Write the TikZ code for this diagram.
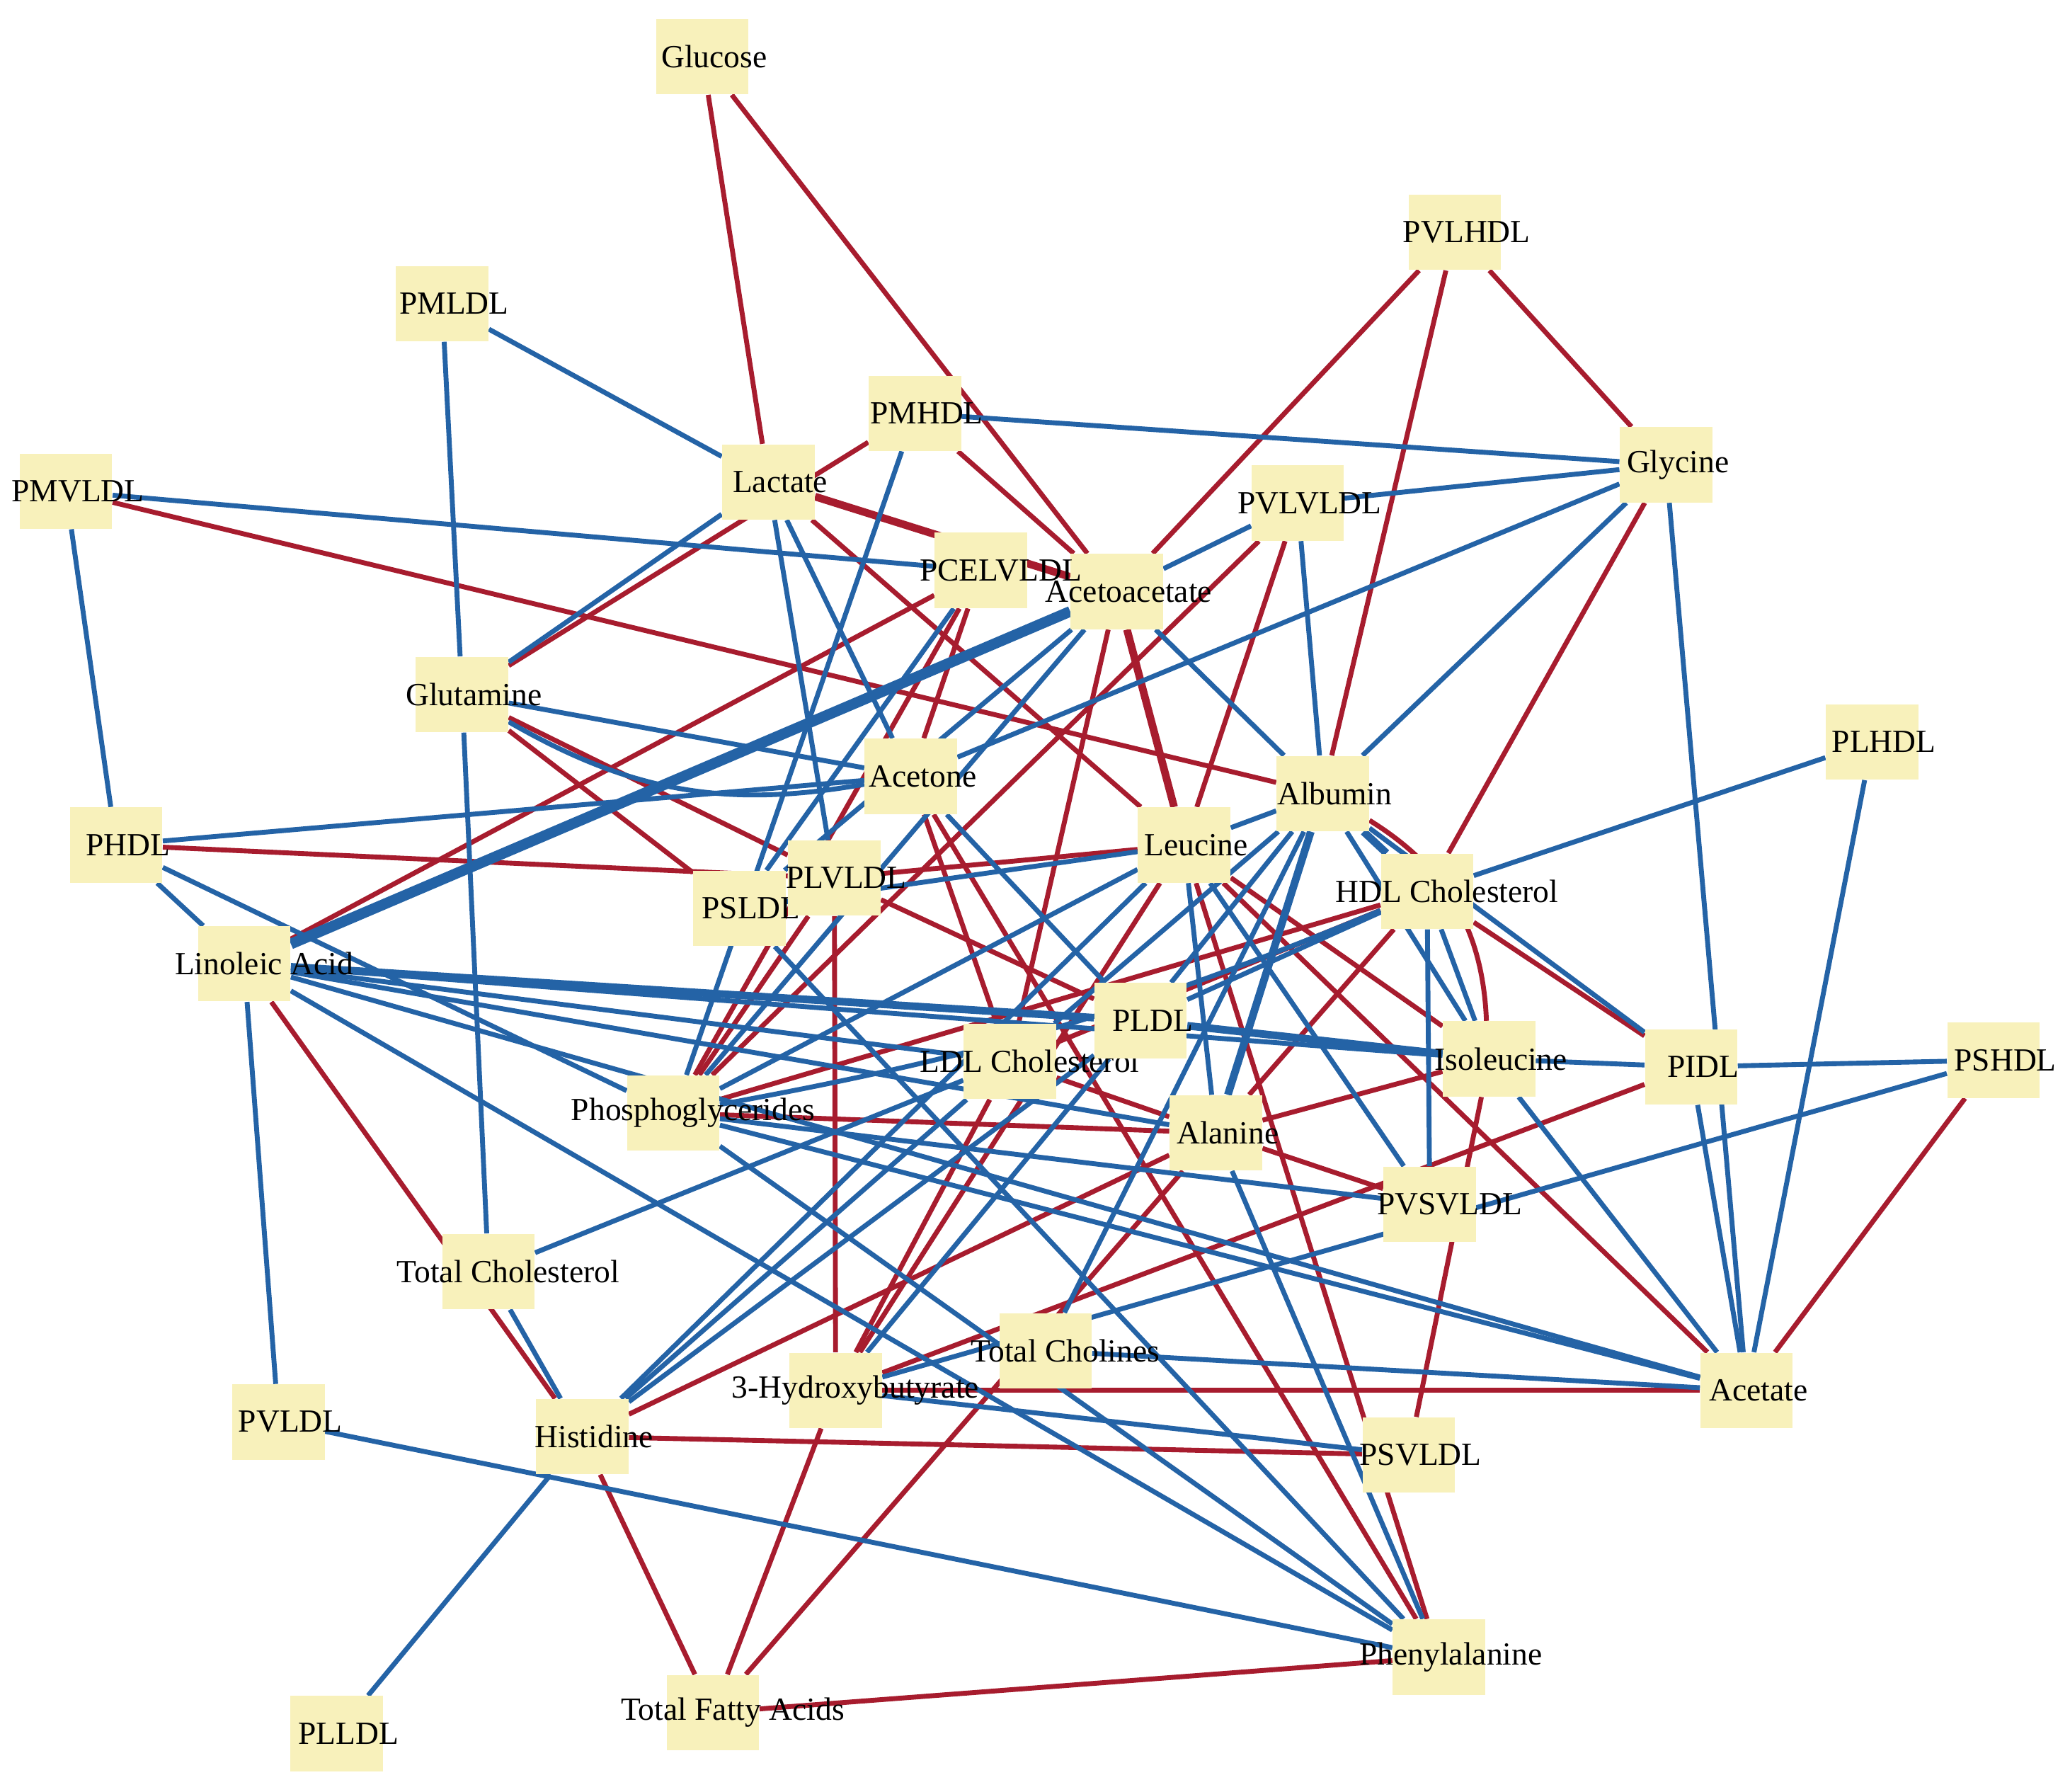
\documentclass[tikz,border=0pt]{standalone}
\usepackage{fontspec}
\setmainfont{Liberation Serif}
\usetikzlibrary{backgrounds}
\definecolor{posred}{RGB}{167,28,46}
\definecolor{negblue}{RGB}{36,99,166}
\definecolor{nodeyellow}{RGB}{248,241,187}

\begin{document}
\begin{tikzpicture}[
  x=0.02cm, y=-0.02cm,
  met/.style={rectangle, fill=nodeyellow, minimum width=1.4cm,
              minimum height=1.14cm, inner sep=0pt},
  lab/.style={font=\fontsize{13.9}{16}\selectfont, xshift=0.18cm, inner sep=0pt},
  wlab/.style={lab, xshift=0.12cm},
  posedge/.style={draw=posred, line width=2.1pt},
  negedge/.style={draw=negblue, line width=2.1pt},
  heavy/.style={line width=3.3pt}
]
\useasboundingbox (0,0) rectangle (1568,1357);

% Metabolites
\node[met, label={[lab]center:Glucose}] (glc) at (532,43) {};
\node[met, label={[lab]center:PMLDL}] (pmldl) at (335,230) {};
\node[met, label={[lab]center:PVLHDL}] (pvlhdl) at (1102,176) {};
\node[met, label={[lab]center:PMHDL}] (pmhdl) at (693,313) {};
\node[met, label={[lab]center:Glycine}] (gly) at (1262,352) {};
\node[met, label={[lab]center:PMVLDL}] (pmvldl) at (50,372) {};
\node[met, label={[lab]center:Lactate}] (lac) at (582,365) {};
\node[met, label={[lab]center:PVLVLDL}] (pvlvldl) at (983,381) {};
\node[met, label={[lab]center:Acetoacetate}] (acac) at (846,448) {};
\node[met, label={[wlab]center:PCELVLDL}] (pcel) at (743,432) {};
\node[met, label={[lab]center:Glutamine}] (gln) at (350,526) {};
\node[met, label={[lab]center:Acetone}] (acn) at (690,588) {};
\node[met, label={[lab]center:Albumin}] (alb) at (1002,601) {};
\node[met, label={[lab]center:PLHDL}] (plhdl) at (1418,562) {};
\node[met, label={[lab]center:PHDL}] (phdl) at (88,640) {};
\node[met, label={[lab]center:Leucine}] (leu) at (897,640) {};
\node[met, label={[lab]center:PSLDL}] (psldl) at (560,688) {};
\node[met, label={[lab]center:PLVLDL}] (plvldl) at (632,665) {};
\node[met, label={[wlab]center:HDL Cholesterol}] (hdlc) at (1081,675) {};
\node[met, label={[wlab]center:Linoleic Acid}] (lin) at (185,730) {};
\node[met, label={[wlab]center:LDL Cholesterol}] (ldlc) at (765,804) {};
\node[met, label={[lab]center:PLDL}] (pldl) at (864,773) {};
\node[met, label={[lab]center:Isoleucine}] (ile) at (1128,802) {};
\node[met, label={[lab]center:PIDL}] (pidl) at (1281,808) {};
\node[met, label={[lab]center:PSHDL}] (pshdl) at (1510,803) {};
\node[met, label={[wlab]center:Phosphoglycerides}] (pg) at (510,843) {};
\node[met, label={[lab]center:Alanine}] (ala) at (921,858) {};
\node[met, label={[wlab]center:PVSVLDL}] (pvsvldl) at (1083,912) {};
\node[met, label={[wlab]center:Total Cholesterol}] (tchol) at (370,963) {};
\node[met, label={[wlab]center:Total Cholines}] (tcho) at (792,1023) {};
\node[met, label={[wlab]center:3-Hydroxybutyrate}] (hb) at (633,1053) {};
\node[met, label={[lab]center:Acetate}] (ace) at (1323,1053) {};
\node[met, label={[lab]center:PVLDL}] (pvldl) at (211,1077) {};
\node[met, label={[lab]center:Histidine}] (his) at (441,1088) {};
\node[met, label={[lab]center:PSVLDL}] (psvldl) at (1067,1102) {};
\node[met, label={[lab]center:Phenylalanine}] (phe) at (1090,1255) {};
\node[met, label={[wlab]center:Total Fatty Acids}] (tfa) at (540,1297) {};
\node[met, label={[lab]center:PLLDL}] (plldl) at (255,1313) {};

\begin{scope}[on background layer]
% positive
\draw[posedge] (glc) -- (lac);
\draw[posedge] (glc) -- (acac);
\draw[posedge] (pvlhdl) -- (acac);
\draw[posedge] (pvlhdl) -- (alb);
\draw[posedge] (pvlhdl) -- (gly);
\draw[posedge] (pmhdl) -- (gln);
\draw[posedge] (pmhdl) -- (acac);
\draw[posedge] (pmvldl) -- (alb);
\draw[posedge, heavy] (lac) -- (acac);
\draw[posedge] (lac) -- (leu);
\draw[posedge] (pvlvldl) -- (leu);
\draw[posedge] (pvlvldl) -- (pg);
\draw[posedge] (pcel) -- (lin);
\draw[posedge] (pcel) -- (pg);
\draw[posedge] (pcel) -- (acn);
\draw[posedge, heavy] (acac) -- (leu);
\draw[posedge] (acac) -- (ldlc);
\draw[posedge] (gln) -- (plvldl);
\draw[posedge] (gln) -- (psldl);
\draw[posedge] (phdl) -- (plvldl);
\draw[posedge] (lin) -- (his);
\draw[posedge] (plvldl) -- (leu);
\draw[posedge] (plvldl) -- (hb);
\draw[posedge] (plvldl) -- (pldl);
\draw[posedge] (plvldl) -- (pg);
\draw[posedge] (alb) to[bend left=28] (ile);
\draw[posedge] (hdlc) -- (pidl);
\draw[posedge] (hdlc) -- (ala);
\draw[posedge] (gly) -- (hdlc);
\draw[posedge] (pg) -- (hdlc);
\draw[posedge] (ldlc) -- (hdlc);
\draw[posedge] (pg) -- (ala);
\draw[posedge] (ldlc) -- (ala);
\draw[posedge] (ile) -- (ala);
\draw[posedge] (ala) -- (pvsvldl);
\draw[posedge] (ala) -- (his);
\draw[posedge] (tfa) -- (ala);
\draw[posedge] (ile) -- (leu);
\draw[posedge] (leu) -- (ace);
\draw[posedge] (leu) -- (phe);
\draw[posedge] (leu) -- (hb);
\draw[posedge] (acn) -- (phe);
\draw[posedge] (acn) -- (ldlc);
\draw[posedge] (ile) -- (psvldl);
\draw[posedge] (hb) -- (pidl);
\draw[posedge] (hb) -- (ace);
\draw[posedge] (hb) -- (tfa);
\draw[posedge] (ldlc) -- (hb);
\draw[posedge] (his) -- (psvldl);
\draw[posedge] (his) -- (tfa);
\draw[posedge] (tfa) -- (phe);
\draw[posedge] (pshdl) -- (ace);
% negative
\draw[negedge] (pmldl) -- (lac);
\draw[negedge] (pmldl) -- (gln);
\draw[negedge] (gln) -- (tchol);
\draw[negedge] (pmhdl) -- (gly);
\draw[negedge] (pmhdl) -- (pg);
\draw[negedge] (gly) -- (pvlvldl);
\draw[negedge] (gly) -- (acn);
\draw[negedge] (gly) -- (alb);
\draw[negedge] (gly) -- (ace);
\draw[negedge] (pmvldl) -- (phdl);
\draw[negedge] (pmvldl) -- (pcel);
\draw[negedge] (lac) -- (gln);
\draw[negedge] (lac) -- (acn);
\draw[negedge] (lac) -- (plvldl);
\draw[negedge] (pvlvldl) -- (acac);
\draw[negedge] (pvlvldl) -- (alb);
\draw[negedge] (pcel) -- (psldl);
\draw[negedge, line width=4.6pt] (acac) -- (lin);
\draw[negedge] (acac) -- (psldl);
\draw[negedge] (acac) -- (pg);
\draw[negedge] (acac) -- (alb);
\draw[negedge] (gln) -- (acn);
\draw[negedge] (gln) to[bend right=20] (acn);
\draw[negedge] (phdl) -- (acn);
\draw[negedge] (phdl) -- (pg);
\draw[negedge] (phdl) -- (lin);
\draw[negedge, heavy] (lin) -- (pldl);
\draw[negedge] (lin) -- (ile);
\draw[negedge] (lin) -- (ldlc);
\draw[negedge] (lin) -- (ala);
\draw[negedge] (lin) -- (ace);
\draw[negedge] (lin) -- (pvldl);
\draw[negedge] (lin) -- (phe);
\draw[negedge, heavy] (pldl) -- (ile);
\draw[negedge] (ile) -- (pidl);
\draw[negedge] (pidl) -- (pshdl);
\draw[negedge] (pidl) -- (ace);
\draw[negedge] (alb) -- (pidl);
\draw[negedge] (plhdl) -- (hdlc);
\draw[negedge] (plhdl) -- (ace);
\draw[negedge] (pshdl) -- (hb);
\draw[negedge] (ile) -- (ace);
\draw[negedge] (tcho) -- (ace);
\draw[negedge] (hdlc) -- (ile);
\draw[negedge] (alb) -- (ile);
\draw[negedge] (hdlc) -- (pvsvldl);
\draw[negedge] (hdlc) -- (pldl);
\draw[negedge] (pg) to[bend right=6] (hdlc);
\draw[negedge, heavy] (alb) -- (hdlc);
\draw[negedge, heavy] (alb) -- (ala);
\draw[negedge] (alb) -- (ldlc);
\draw[negedge] (alb) -- (tcho);
\draw[negedge] (alb) -- (pldl);
\draw[negedge] (leu) -- (ala);
\draw[negedge] (leu) -- (alb);
\draw[negedge] (leu) -- (psldl);
\draw[negedge] (leu) -- (pg);
\draw[negedge] (leu) -- (his);
\draw[negedge] (leu) -- (pvsvldl);
\draw[negedge] (acn) -- (pldl);
\draw[negedge] (ala) -- (phe);
\draw[negedge] (pg) -- (pvsvldl);
\draw[negedge] (pg) -- (phe);
\draw[negedge] (pg) -- (ace);
\draw[negedge] (psldl) -- (phe);
\draw[negedge] (tchol) -- (his);
\draw[negedge] (tchol) -- (ldlc);
\draw[negedge] (his) -- (plldl);
\draw[negedge] (his) -- (ldlc);
\draw[negedge] (his) -- (pldl);
\draw[negedge] (pvldl) -- (phe);
\draw[negedge] (hb) -- (psvldl);
\draw[negedge] (hb) -- (pldl);
\end{scope}

\end{tikzpicture}
\end{document}
